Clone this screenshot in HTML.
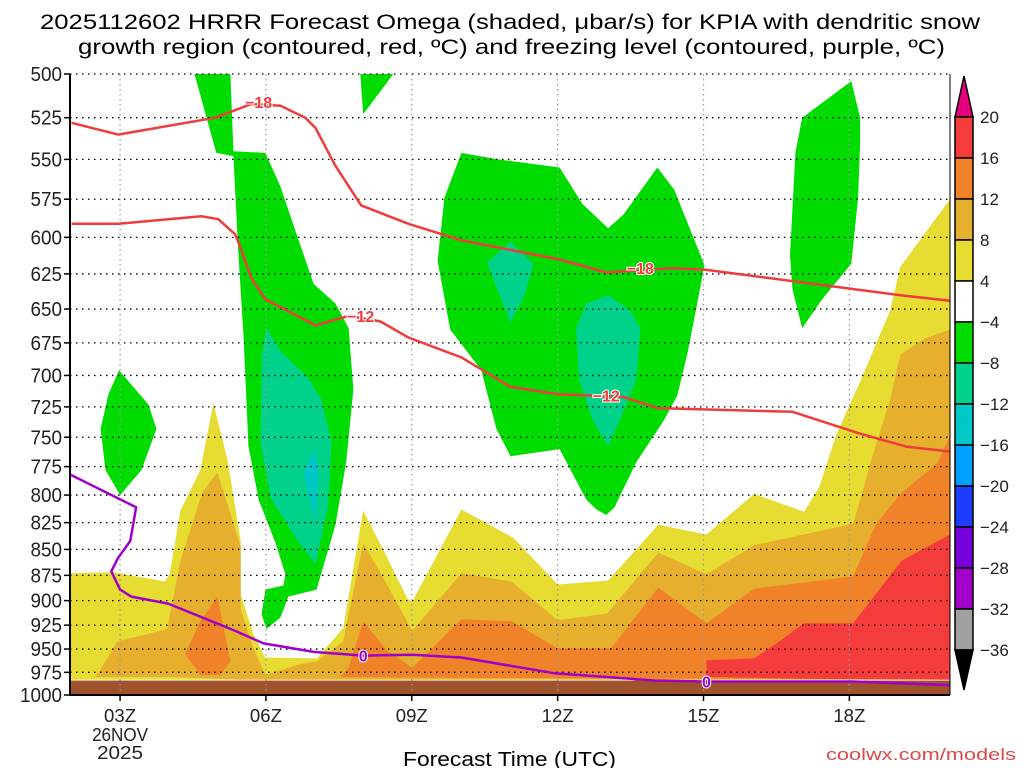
<!DOCTYPE html>
<html><head><meta charset="utf-8"><title>HRRR Omega KPIA</title>
<style>
html,body{margin:0;padding:0;background:#fff;}
svg{display:block;font-family:"Liberation Sans",sans-serif;}
</style></head>
<body>
<svg id="chart" width="1024" height="768" viewBox="0 0 1024 768" xmlns="http://www.w3.org/2000/svg">
<g id="title" font-size="21" fill="#000">
<text x="40" y="29" textLength="940" lengthAdjust="spacingAndGlyphs">2025112602 HRRR Forecast Omega (shaded, μbar/s) for KPIA with dendritic snow</text>
<text x="78" y="54" textLength="867" lengthAdjust="spacingAndGlyphs">growth region (contoured, red, ºC) and freezing level (contoured, purple, ºC)</text>
</g>
<g id="fills"></g>
<g id="grid"></g>
<g id="lines"></g>
<g id="axes"></g>
<g id="cbar"></g>
<text x="403" y="766" font-size="20" textLength="213" lengthAdjust="spacingAndGlyphs">Forecast Time (UTC)</text>
<text x="826" y="760" font-size="17" textLength="190" lengthAdjust="spacingAndGlyphs" fill="#e04848">coolwx.com/models</text>
</svg>
<script>
// ---- data ----
const pressureTicks = [500,525,550,575,600,625,650,675,700,725,750,775,800,825,850,875,900,925,950,975,1000];
const hourTicks = [3,6,9,12,15,18];
const hourTickLabels = ["03Z","06Z","09Z","12Z","15Z","18Z"];
const cbarLevels = [20,16,12,8,4,-4,-8,-12,-16,-20,-24,-28,-32,-36];
const cbarColors = ["#f53c3c","#f0822a","#e6af2d","#e6dc32","#ffffff","#00dc00","#00d28c","#00c8c8","#00a0ff","#1e3cff","#7800dc","#a000c8","#a0a0a0"];

// shaded regions: [hour, pressure] vertices
const yellowRegion = [[1.98,873],[2.86,872],[3.92,881],[4.02,874],[4.24,814],[4.65,778],[4.92,722],[5.21,769],[5.48,842],[5.48,894],[5.74,934],[5.98,959],[7.05,960],[7.59,928],[8.0,814],[8.42,851],[8.91,898],[9.01,901],[10.02,813],[11.09,839],[12.0,884],[13.04,880],[14.07,827],[15.06,836],[16.04,799],[17.07,815],[17.38,793],[17.73,748],[18.22,705],[18.84,651],[19.05,620],[20.07,575],[20.07,983],[1.98,983]];
const darkYellowRegion = [[2.49,980],[2.6,972],[2.94,942],[3.97,929],[4.24,861],[4.69,798],[5.0,780],[5.21,808],[5.48,848],[5.48,908],[5.74,949],[5.99,978],[6.71,966],[7.05,963],[7.59,942],[8.0,844],[8.42,878],[9.01,931],[10.02,873],[11.05,881],[12.0,920],[13.02,913],[14.07,853],[15.06,874],[16.04,846],[18.08,826],[18.49,764],[18.84,719],[19.05,684],[19.54,672],[20.07,665],[20.07,983],[5.5,983],[4.0,980]];
const orangeDrop = [[4.34,955],[4.65,921],[5.0,896],[5.27,963],[5.06,978],[4.65,978]];
const orangeRegion = [[7.53,980],[7.7,970],[8.0,921],[8.5,952],[9.01,970],[10.02,919],[11.05,921],[12.0,949],[13.1,949],[14.07,887],[15.06,923],[16.04,888],[18.08,876],[18.55,826],[19.07,798],[19.81,772],[20.07,749],[20.07,983],[10.0,981]];
const redRegion = [[15.06,980],[15.06,962],[16.04,960],[16.56,942],[17.07,923],[18.08,923],[19.07,861],[20.07,836],[20.07,983],[17.0,982]];
const greenColumn = [[4.53,500],[5.27,500],[5.33,545],[5.99,546],[6.3,567],[6.61,596],[6.98,632],[7.43,646],[7.7,664],[7.8,711],[7.65,771],[7.43,827],[7.04,889],[6.46,896],[6.3,917],[6.01,929],[5.91,914],[5.99,889],[6.36,885],[6.4,874],[6.19,843],[5.85,804],[5.64,757],[5.54,671],[5.43,609],[5.33,548],[4.98,546],[4.76,523]];
const greenSmallLeft = [[2.98,696],[3.58,723],[3.75,743],[3.44,778],[3.0,800],[2.7,778],[2.6,743],[2.76,715]];
const greenTopMid = [[7.94,500],[8.62,500],[8.0,523]];
const greenMiddle = [[10.02,546],[10.78,550],[12.04,555],[12.51,578],[13.04,594],[13.35,585],[14.05,555],[14.4,569],[15.02,619],[14.87,646],[14.67,683],[14.46,716],[14.17,737],[13.62,771],[13.17,811],[13.0,818],[12.8,813],[12.59,804],[12.04,760],[11.03,766],[10.74,743],[10.43,696],[9.79,665],[9.53,616],[9.67,574]];
const greenRight = [[18.04,504],[18.22,525],[18.22,541],[18.18,574],[18.04,618],[17.44,643],[17.03,664],[16.83,636],[16.78,612],[16.89,546],[17.03,525]];
const tealColumn = [[6.01,664],[6.32,682],[6.87,702],[7.14,719],[7.35,755],[7.28,810],[7.02,864],[6.67,843],[6.11,804],[5.89,755],[5.91,685]];
const tealSmall = [[11.03,603],[11.5,618],[11.34,638],[11.03,660],[10.78,638],[10.55,617]];
const tealMid = [[13.04,640],[13.49,651],[13.7,664],[13.62,703],[13.35,729],[13.04,758],[12.71,735],[12.44,703],[12.38,664],[12.59,646]];
const cyanSpot = [[6.98,761],[7.08,777],[7.02,823],[6.77,780]];

// contour lines
const dgzUpper = [[2.0,528],[2.96,535],[4.96,525],[5.7,517],[6.3,518],[6.81,525],[7.02,531],[7.43,554],[7.96,579],[8.93,591],[10.02,602],[12.04,615],[13.0,624],[14.32,621],[15.02,622],[16.83,630],[19.05,640],[20.07,644]];
const dgzLower = [[2.0,591],[2.96,591],[4.67,586],[5.02,588],[5.37,598],[5.5,609],[5.7,628],[5.99,643],[7.02,662],[7.7,655],[8.35,659],[8.93,671],[10.02,686],[11.03,709],[12.04,715],[13.35,717],[14.05,726],[16.83,729],[18.22,747],[19.19,758],[20.07,762]];
const freezingLevel = [[1.98,782],[3.33,811],[3.21,842],[2.96,858],[2.82,871],[3.0,889],[3.23,896],[3.99,903],[5.37,931],[5.95,944],[6.98,953],[8.0,957],[9.01,956],[10.02,959],[11.93,976],[13.99,984],[15.06,985],[18.08,985],[20.07,989]];
const lineLabels = [["−18",5.85,516,"#f03c3c"],["−18",13.7,621,"#f03c3c"],["−12",7.95,655,"#f03c3c"],["−12",13.0,716,"#f03c3c"],["0",8.0,957,"#a000c8"],["0",15.06,985,"#a000c8"]];

// ---- axes ----
const X0=70, X1=950, Y0=74, Y1=695;
const HMIN=1.97, HMAX=20.07;
function xs(h){ return X0 + (h-HMIN)/(HMAX-HMIN)*(X1-X0); }
function ys(p){ return Y0 + Math.log(p/500)/Math.log(2)*(Y1-Y0); }
const NS="http://www.w3.org/2000/svg";
function mk(tag, attrs, parent){ const e=document.createElementNS(NS,tag); for(const k in attrs) e.setAttribute(k,attrs[k]); parent.appendChild(e); return e; }
function pts(arr){ return arr.map(d=>xs(d[0]).toFixed(1)+","+ys(d[1]).toFixed(1)).join(" "); }

const fills=document.getElementById('fills');
function region(arr,color,name){
  const e=mk('polygon',{points:pts(arr),fill:color},fills);
  
  
}
region(yellowRegion,"#e6dc32","omega-4-8-region");
region(darkYellowRegion,"#e6af2d","omega-8-12-region");
region(orangeDrop,"#f0822a","omega-12-16-region-left");
region(orangeRegion,"#f0822a","omega-12-16-region");
region(redRegion,"#f53c3c","omega-16-20-region");
region(greenColumn,"#00dc00","omega-neg4-column");
region(greenSmallLeft,"#00dc00","omega-neg4-small-left");
region(greenTopMid,"#00dc00","omega-neg4-top-mid");
region(greenMiddle,"#00dc00","omega-neg4-middle");
region(greenRight,"#00dc00","omega-neg4-right");
region(tealColumn,"#00d28c","omega-neg8-column");
region(tealSmall,"#00d28c","omega-neg8-small");
region(tealMid,"#00d28c","omega-neg8-middle");
region(cyanSpot,"#00c8c8","omega-neg12-spot");
const ground=mk('rect',{x:X0,y:ys(984),width:X1-X0,height:Y1-ys(984),fill:"#a0522d"},fills);



// grid
const grid=document.getElementById('grid');
pressureTicks.forEach(p=>{
  const l=mk('line',{x1:X0,x2:X1,y1:ys(p),y2:ys(p),stroke:"#000","stroke-width":1.3,"stroke-dasharray":"1.5,4.5"},grid);
  
  
});
hourTicks.forEach(h=>{
  const l=mk('line',{x1:xs(h),x2:xs(h),y1:Y0,y2:Y1,stroke:"#999","stroke-width":1.2,"stroke-dasharray":"1.5,3.5"},grid);
  
  
});

// contour lines
const lines=document.getElementById('lines');
function pline(arr,color,name){
  const e=mk('polyline',{points:pts(arr),fill:"none",stroke:color,"stroke-width":2.5,"stroke-linejoin":"round"},lines);
  
  
}
pline(dgzUpper,"#f03c3c","minus18-isotherm");
pline(dgzLower,"#f03c3c","minus12-isotherm");
pline(freezingLevel,"#a000c8","freezing-level-line");
lineLabels.forEach(d=>{
  const t=mk('text',{x:xs(d[1]),y:ys(d[2])+6,"font-size":16,"font-weight":"bold","text-anchor":"middle",fill:d[3],stroke:"#fff","stroke-width":2,"paint-order":"stroke"},lines);
  t.textContent=d[0];
  
  
});

// axes
const axes=document.getElementById('axes');
mk('line',{x1:X0,x2:X0,y1:Y0,y2:Y1+1,stroke:"#000","stroke-width":2},axes);
mk('line',{x1:X0-1,x2:X1,y1:Y1,y2:Y1,stroke:"#000","stroke-width":2},axes);
mk('line',{x1:X1,x2:X1,y1:Y0,y2:Y1,stroke:"#000","stroke-width":1},axes);
pressureTicks.forEach(p=>{
  mk('line',{x1:X0-6,x2:X0,y1:ys(p),y2:ys(p),stroke:"#000","stroke-width":1.5},axes);
  const s=String(p);
  const t=mk('text',{x:X0-8,y:ys(p)+7,"font-size":20,"text-anchor":"end",fill:"#222",textLength:s.length*10.5,lengthAdjust:"spacingAndGlyphs"},axes);
  t.textContent=s;
  
  
});
hourTicks.forEach((h,i)=>{
  mk('line',{x1:xs(h),x2:xs(h),y1:Y1,y2:Y1+6,stroke:"#000","stroke-width":1.5},axes);
  const t=mk('text',{x:xs(h),y:722,"font-size":18,"text-anchor":"middle",fill:"#222",textLength:32,lengthAdjust:"spacingAndGlyphs"},axes);
  t.textContent=hourTickLabels[i];
  
  
});
const d1=mk('text',{x:xs(3),y:741,"font-size":18,"text-anchor":"middle",fill:"#222",textLength:56,lengthAdjust:"spacingAndGlyphs"},axes);
d1.textContent="26NOV";


const d2=mk('text',{x:xs(3),y:759,"font-size":18,"text-anchor":"middle",fill:"#222",textLength:46,lengthAdjust:"spacingAndGlyphs"},axes);
d2.textContent="2025";



// colorbar
const cbar=document.getElementById('cbar');
const CB0=955, CBW=18, CBT=117, CBB=650;
const bh=(CBB-CBT)/cbarColors.length;
function cy(i){ return CBT + i*bh; }
const topTri=mk('polygon',{points:`${CB0},${CBT} ${CB0+CBW},${CBT} ${CB0+CBW/2},${CBT-41}`,fill:"#e6007d",stroke:"#000","stroke-width":1.5},cbar);


cbarColors.forEach((c,i)=>{
  const r=mk('rect',{x:CB0,y:cy(i),width:CBW,height:bh,fill:c,stroke:"#000","stroke-width":1.5},cbar);
  
  
});
const botTri=mk('polygon',{points:`${CB0},${CBB} ${CB0+CBW},${CBB} ${CB0+CBW/2},${CBB+40}`,fill:"#000",stroke:"#000","stroke-width":1.5},cbar);


cbarLevels.forEach((v,i)=>{
  const t=mk('text',{x:980,y:cy(i)+6,"font-size":17,fill:"#222"},cbar);
  t.textContent=(v<0?"−"+(-v):String(v));
  
  
});
</script>
</body></html>
